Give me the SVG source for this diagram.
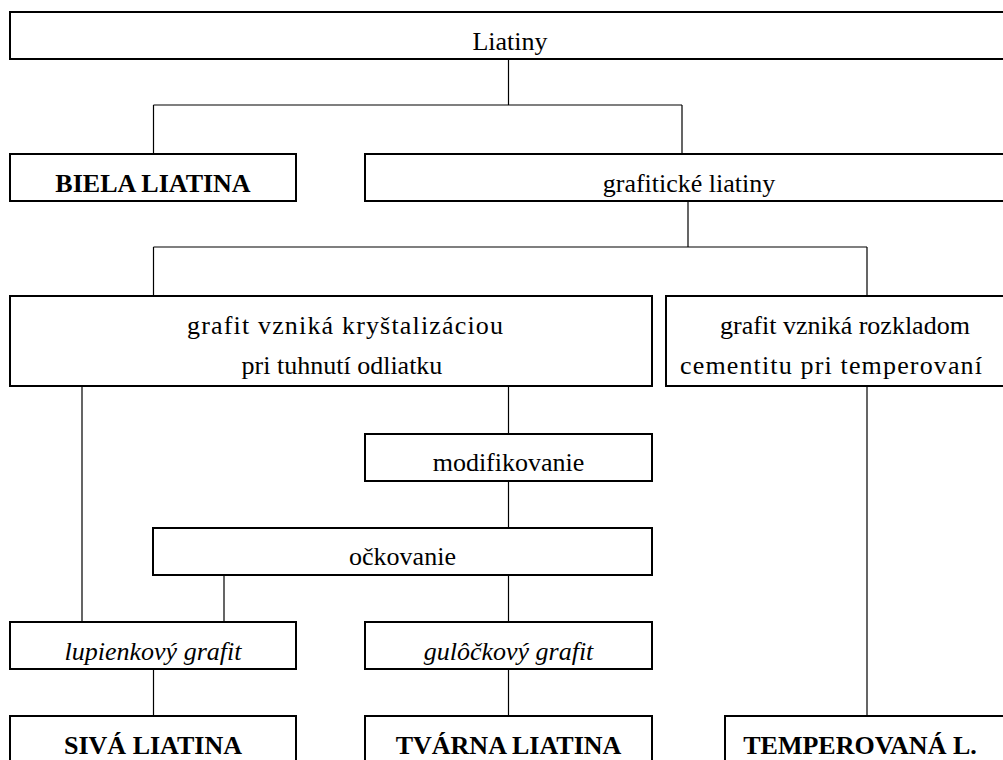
<svg xmlns="http://www.w3.org/2000/svg" width="1003" height="760" viewBox="0 0 1003 760">
<style>
.box{fill:#fff;stroke:#000;stroke-width:2}
text{font-family:'Liberation Serif','Times New Roman',Times,serif;font-size:26px;fill:#000;text-anchor:middle}
.b{font-weight:bold}
.i{font-style:italic}
.c{stroke:#000;stroke-width:1.2;fill:none}
</style>
<rect width="1003" height="760" fill="#fff"/>
<g id="connectors">
<path class="c" d="M508.5 59V105M153.5 105H682M153.5 105V154M682 105V154"/>
<path class="c" d="M688 201V247M153.5 247H867M153.5 247V296M867 247V296"/>
<path class="c" d="M82 386V622M508.5 386V434M508.5 481V528M224 575V622M508.5 575V622M153.5 669V716M508.5 669V716M867 386V716"/>
</g>
<g id="liatiny"><rect class="box" x="10" y="12" width="1000" height="47"/><text x="510" y="50">Liatiny</text></g>
<g id="biela"><rect class="box" x="10" y="154" width="286" height="47"/><text class="b" x="153" y="192">BIELA LIATINA</text></g>
<g id="grafiticke"><rect class="box" x="365" y="154" width="700" height="47"/><text x="689" y="192">grafitické liatiny</text></g>
<g id="krystalizacia"><rect class="box" x="10" y="296" width="642" height="90"/><text x="345" y="334" textLength="316" lengthAdjust="spacing">grafit vzniká kryštalizáciou</text><text x="342" y="374">pri tuhnutí odliatku</text></g>
<g id="rozklad"><rect class="box" x="666" y="296" width="400" height="90"/><text x="845" y="334">grafit vzniká rozkladom</text><text x="831" y="374" textLength="302" lengthAdjust="spacing">cementitu pri temperovaní</text></g>
<g id="modifikovanie"><rect class="box" x="365" y="434" width="287" height="47"/><text x="508.5" y="471">modifikovanie</text></g>
<g id="ockovanie"><rect class="box" x="153" y="528" width="499" height="47"/><text x="402.5" y="565">očkovanie</text></g>
<g id="lupienkovy"><rect class="box" x="10" y="622" width="286" height="47"/><text class="i" x="153" y="660">lupienkový grafit</text></g>
<g id="gulockovy"><rect class="box" x="365" y="622" width="287" height="47"/><text class="i" x="508.5" y="660">gulôčkový grafit</text></g>
<g id="siva"><rect class="box" x="10" y="716" width="286" height="60"/><text class="b" x="153" y="754">SIVÁ LIATINA</text></g>
<g id="tvarna"><rect class="box" x="365" y="716" width="287" height="60"/><text class="b" x="508.5" y="754">TVÁRNA LIATINA</text></g>
<g id="temperovana"><rect class="box" x="725" y="716" width="400" height="60"/><text class="b" x="860" y="754">TEMPEROVANÁ L.</text></g>
</svg>
